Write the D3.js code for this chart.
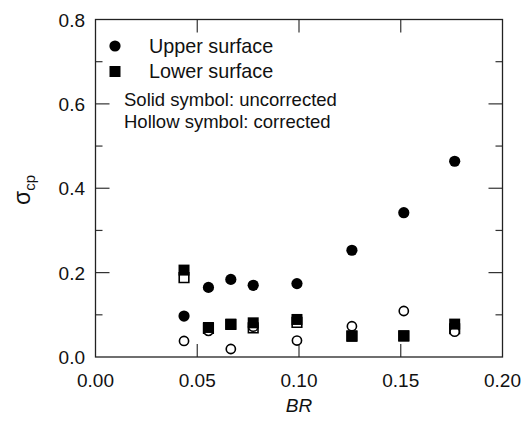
<!DOCTYPE html>
<html>
<head>
<meta charset="utf-8">
<script src="https://cdn.jsdelivr.net/npm/d3@7"></script>
<style>
html,body{margin:0;padding:0;background:#fff;}
svg{display:block;font-family:"Liberation Sans",Arial,sans-serif;}
</style>
</head>
<body>
<svg id="chart" width="523" height="421"></svg>
<script>
const BR = [0.0435, 0.0555, 0.0665, 0.0775, 0.099, 0.126, 0.1515, 0.1765];
const upperSolid  = [0.097, 0.165, 0.184, 0.170, 0.174, 0.253, 0.342, 0.464];
const lowerSolid  = [0.206, 0.070, 0.078, 0.081, 0.089, 0.049, 0.050, 0.078];
const upperHollow = [0.038, 0.062, 0.019, 0.072, 0.039, 0.073, 0.109, 0.060];
const lowerHollow = [0.188, 0.068, 0.077, 0.069, 0.082, 0.050, 0.050, 0.067];
const xTicks = [0.00, 0.05, 0.10, 0.15, 0.20];
const yTicks = [0.0, 0.2, 0.4, 0.6, 0.8];
const yMinor = [0.1, 0.3, 0.5, 0.7];
const legendItems = ["Upper surface", "Lower surface"];
const notes = ["Solid symbol: uncorrected", "Hollow symbol: corrected"];

const svg = d3.select("#chart");
const L = 95.5, R = 502.5, T = 19.5, B = 357;
const x = d3.scaleLinear().domain([0, 0.2]).range([L, R]);
const y = d3.scaleLinear().domain([0, 0.8]).range([B, T]);

// inward ticks
const tickG = svg.append("g").attr("stroke", "#333").attr("stroke-width", 1.2);
yTicks.slice(1, -1).forEach(v => {
  tickG.append("line").attr("x1", L).attr("x2", L + 14).attr("y1", y(v)).attr("y2", y(v));
  tickG.append("line").attr("x1", R).attr("x2", R - 14).attr("y1", y(v)).attr("y2", y(v));
});
yMinor.forEach(v => {
  tickG.append("line").attr("x1", L).attr("x2", L + 7).attr("y1", y(v)).attr("y2", y(v));
  tickG.append("line").attr("x1", R).attr("x2", R - 7).attr("y1", y(v)).attr("y2", y(v));
});
xTicks.slice(1, -1).forEach(v => {
  tickG.append("line").attr("x1", x(v)).attr("x2", x(v)).attr("y1", B).attr("y2", B - 13);
  tickG.append("line").attr("x1", x(v)).attr("x2", x(v)).attr("y1", T).attr("y2", T + 13);
});

// frame
svg.append("rect").attr("x", L).attr("y", T).attr("width", R - L).attr("height", B - T)
  .attr("fill", "none").attr("stroke", "#222").attr("stroke-width", 1.3);

// tick labels
svg.append("g").selectAll("text").data(xTicks).join("text")
  .attr("x", d => x(d)).attr("y", 387).attr("text-anchor", "middle")
  .attr("font-size", 19).attr("fill", "#111").text(d => d3.format(".2f")(d));
svg.append("g").selectAll("text").data(yTicks).join("text")
  .attr("x", 85).attr("y", d => y(d) + 7).attr("text-anchor", "end")
  .attr("font-size", 19).attr("fill", "#111").text(d => d3.format(".1f")(d));

// axis titles
svg.append("text").attr("x", x(0.1)).attr("y", 412).attr("text-anchor", "middle")
  .attr("font-size", 19).attr("font-style", "italic").attr("fill", "#111").text("BR");
const yl = svg.append("text").attr("transform", "translate(30,190) rotate(-90)")
  .attr("text-anchor", "middle").attr("fill", "#111");
yl.append("tspan").attr("font-size", 23).text("σ");
yl.append("tspan").attr("font-size", 15).attr("dy", 5).text("cp");

const circ = d3.symbol().type(d3.symbolCircle).size(Math.PI * 5.6 * 5.6)();
const circH = d3.symbol().type(d3.symbolCircle).size(Math.PI * 4.6 * 4.6)();
const sqr = d3.symbol().type(d3.symbolSquare).size(11 * 11)();
const sqrH = d3.symbol().type(d3.symbolSquare).size(9.6 * 9.6)();

const pts = (arr) => BR.map((b, i) => [b, arr[i]]);
// hollow first
svg.append("g").selectAll("path").data(pts(lowerHollow)).join("path")
  .attr("d", sqrH).attr("transform", d => `translate(${x(d[0])},${y(d[1])})`)
  .attr("fill", "#fff").attr("stroke", "#000").attr("stroke-width", 1.6);
svg.append("g").selectAll("path").data(pts(upperHollow)).join("path")
  .attr("d", circH).attr("transform", d => `translate(${x(d[0])},${y(d[1])})`)
  .attr("fill", "#fff").attr("stroke", "#000").attr("stroke-width", 1.6);
svg.append("g").selectAll("path").data(pts(upperSolid)).join("path")
  .attr("d", circ).attr("transform", d => `translate(${x(d[0])},${y(d[1])})`)
  .attr("fill", "#000");
svg.append("g").selectAll("path").data(pts(lowerSolid)).join("path")
  .attr("d", sqr).attr("transform", d => `translate(${x(d[0])},${y(d[1])})`)
  .attr("fill", "#000");

// legend
const lg = svg.append("g");
lg.append("path").attr("d", circ).attr("transform", "translate(115,46)").attr("fill", "#000");
lg.append("path").attr("d", sqr).attr("transform", "translate(115,71.5)").attr("fill", "#000");
lg.selectAll("text.leg").data(legendItems).join("text").attr("class", "leg")
  .attr("x", 149).attr("y", (d, i) => 53 + i * 24.5).attr("font-size", 19.8).attr("fill", "#111").text(d => d);
lg.selectAll("text.note").data(notes).join("text").attr("class", "note")
  .attr("x", 124).attr("y", (d, i) => 106 + i * 21.5).attr("font-size", 18.5).attr("fill", "#111").text(d => d);
</script>
</body>
</html>
